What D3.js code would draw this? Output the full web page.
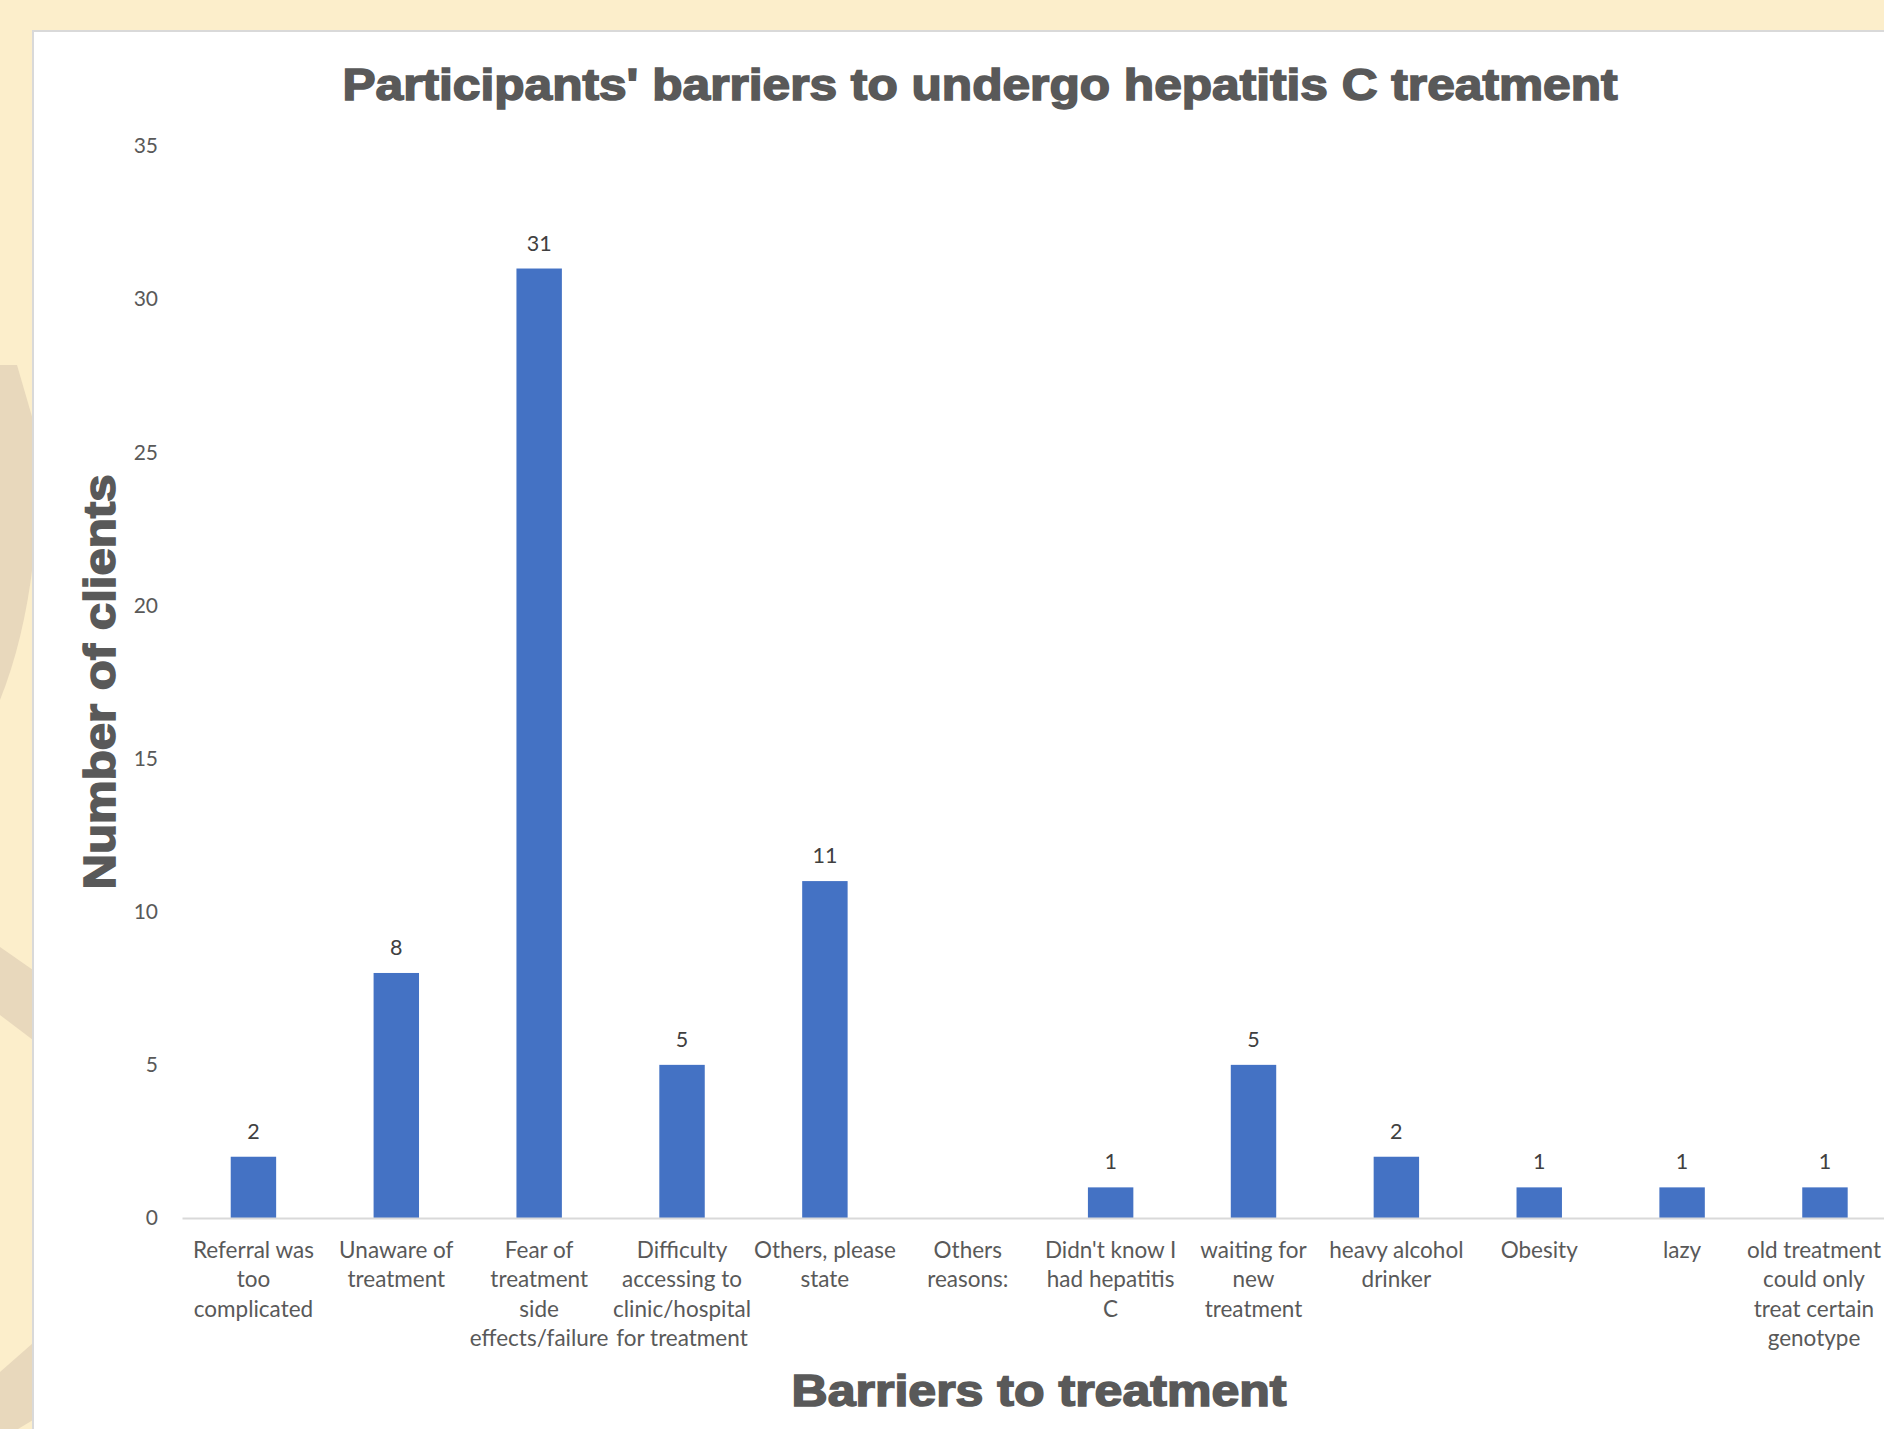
<!DOCTYPE html>
<html>
<head>
<meta charset="utf-8">
<script src="https://cdn.jsdelivr.net/npm/d3@7"></script>
<style>
  html, body { margin: 0; padding: 0; background: #FCEECB; overflow: hidden; }
  svg { display: block; }
</style>
</head>
<body>
<svg id="chart" width="1884" height="1429"></svg>
<script>
// Barrier categories (line breaks mark how each label wraps under the axis)
const categories = [
  "Referral was\ntoo\ncomplicated",
  "Unaware of\ntreatment",
  "Fear of\ntreatment\nside\neffects/failure",
  "Difficulty\naccessing to\nclinic/hospital\nfor treatment",
  "Others, please\nstate",
  "Others\nreasons:",
  "Didn't know I\nhad hepatitis\nC",
  "waiting for\nnew\ntreatment",
  "heavy alcohol\ndrinker",
  "Obesity",
  "lazy",
  "old treatment\ncould only\ntreat certain\ngenotype"
];
// Number of clients per barrier (null = no response recorded)
const clients = [2, 8, 31, 5, 11, null, 1, 5, 2, 1, 1, 1];
const yTicks = [0, 5, 10, 15, 20, 25, 30, 35];

const chartTitle = "Participants' barriers to undergo hepatitis C treatment";
const xTitle = "Barriers to treatment";
const yTitle = "Number of clients";

const W = 1884;
const svg = d3.select("#chart");

// Decorative tan shapes in the left margin
const deco = [
  "M0,365 L17,365 L33,420 L33,563 Q24,640 0,700 Z",
  "M0,947 L33,970 L33,1040 L0,1015 Z",
  "M0,1372 L33,1343 L33,1420 L18,1429 L0,1429 Z"
];
svg.selectAll("path.deco").data(deco).join("path")
  .attr("class", "deco").attr("d", d => d).attr("fill", "#E8D8BC");

// White chart panel
svg.append("rect")
  .attr("x", 33).attr("y", 31).attr("width", 1950).attr("height", 1500)
  .attr("fill", "#ffffff").attr("stroke", "#D9D9D9").attr("stroke-width", 2);

const x = d3.scaleBand().domain(categories).range([182, 1896.4]).padding(0);
const y = d3.scaleLinear().domain([0, 35]).range([1218, 146]);
const barW = x.bandwidth() * 0.318;

// Y axis tick labels (no gridlines, no axis line)
const yAxis = d3.axisLeft(y).tickValues(yTicks).tickSize(0).tickPadding(0);
const gy = svg.append("g").attr("transform", "translate(158,0)").call(yAxis);
gy.select(".domain").remove();
gy.selectAll("text")
  .attr("font-family", "Lato, 'Open Sans', sans-serif")
  .attr("font-size", 21).attr("fill", "#595959");

// Bars
const rows = categories.map((c, i) => ({ c, v: clients[i] })).filter(d => d.v != null);
svg.selectAll("rect.bar").data(rows).join("rect")
  .attr("class", "bar")
  .attr("x", d => x(d.c) + (x.bandwidth() - barW) / 2)
  .attr("width", barW)
  .attr("y", d => y(d.v))
  .attr("height", d => y(0) - y(d.v))
  .attr("fill", "#4472C4");

// Category axis: baseline plus wrapped labels
const xAxis = d3.axisBottom(x).tickSize(0).tickFormat("");
const gx = svg.append("g").attr("transform", `translate(0,${y(0)})`).call(xAxis);
gx.select(".domain").attr("stroke", "#D9D9D9").attr("stroke-width", 2);

const labels = svg.append("g")
  .attr("font-family", "Lato, 'Open Sans', sans-serif")
  .attr("font-size", 22.5).attr("fill", "#595959").attr("text-anchor", "middle");
categories.forEach(c => {
  const cx = x(c) + x.bandwidth() / 2;
  const t = labels.append("text").attr("x", cx).attr("y", y(0) + 40);
  c.split("\n").forEach((line, k) => {
    t.append("tspan").attr("x", cx).attr("dy", k === 0 ? 0 : 29.3).text(line);
  });
  // keep the label inside the page
  const bb = t.node().getBBox();
  const over = bb.x + bb.width - (W - 3);
  if (over > 0) t.selectAll("tspan").attr("x", cx - over);
});

// Data labels above bars
svg.selectAll("text.val").data(rows).join("text")
  .attr("class", "val")
  .attr("x", d => x(d.c) + x.bandwidth() / 2)
  .attr("y", d => y(d.v) - 18)
  .attr("text-anchor", "middle")
  .attr("font-family", "Lato, 'Open Sans', sans-serif")
  .attr("font-size", 21.5).attr("fill", "#404040")
  .text(d => d.v);

// Titles
function heavyText(sel) {
  return sel.attr("font-family", "'Liberation Sans', Arial, sans-serif")
    .attr("font-weight", "bold").attr("font-size", 44)
    .attr("fill", "#595959").attr("stroke", "#595959").attr("stroke-width", 1.6)
    .attr("text-anchor", "middle").attr("lengthAdjust", "spacingAndGlyphs");
}
heavyText(svg.append("text")).attr("x", 980).attr("y", 100)
  .attr("textLength", 1275).text(chartTitle);
heavyText(svg.append("text")).attr("x", 1039).attr("y", 1406)
  .attr("textLength", 495).text(xTitle);
heavyText(svg.append("text"))
  .attr("transform", "translate(115,682) rotate(-90)")
  .attr("textLength", 415).text(yTitle);
</script>
</body>
</html>
